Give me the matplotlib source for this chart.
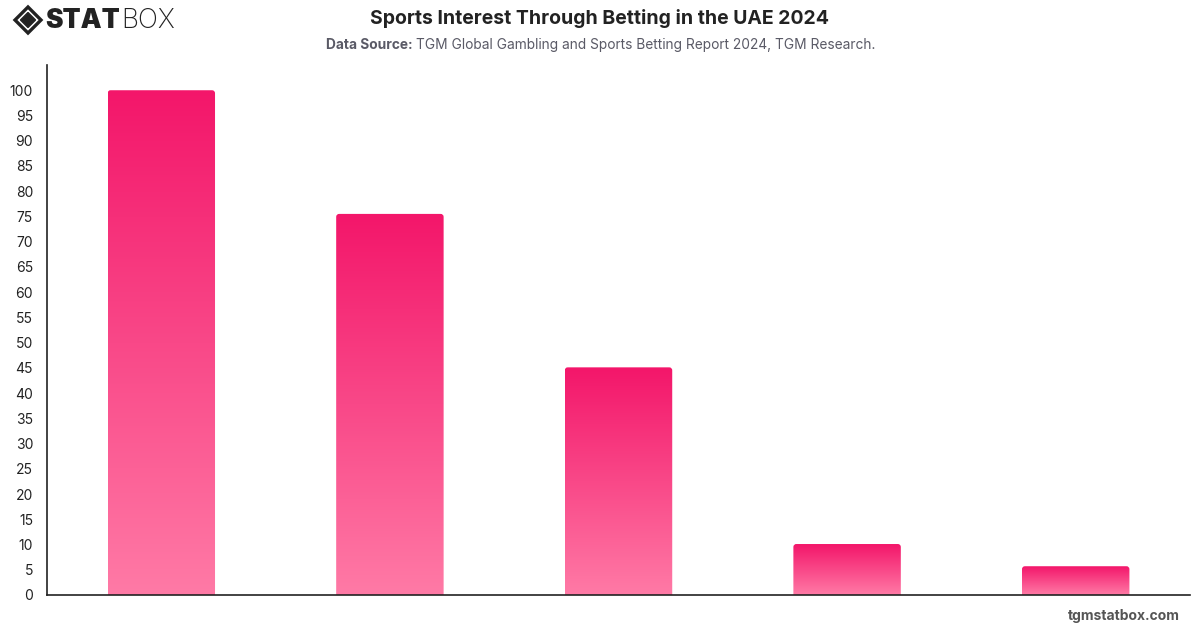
import matplotlib.pyplot as plt
import numpy as np
from matplotlib.patches import FancyBboxPatch, Polygon
from matplotlib.colors import LinearSegmentedColormap

plt.rcParams['font.family'] = ['Inter', 'DejaVu Sans']

categories = ["Sport A", "Sport B", "Sport C", "Sport D", "Sport E"]
values = [100, 75.5, 45.1, 10.1, 5.7]
yticks = list(range(0, 101, 5))

W, H = 1200, 628
fig = plt.figure(figsize=(W / 100, H / 100), dpi=100)
ax = fig.add_axes([47 / W, (H - 595) / H, (1190 - 47) / W, (595 - 65) / H])

cmap = LinearSegmentedColormap.from_list("pink", ["#ff7aa6", "#f3166a"])
grad = np.linspace(0, 1, 256).reshape(-1, 1)
width = 0.47
# data units per pixel ratio (y/x) so the corners come out round
aspect = (105 / 530) / (5 / 1143)

x = np.arange(len(categories))
for xi, v in zip(x, values):
    patch = FancyBboxPatch((xi - width / 2, -3), width, v + 3,
                           boxstyle="round,pad=0,rounding_size=0.013",
                           mutation_aspect=aspect,
                           linewidth=0, facecolor="none", transform=ax.transData)
    ax.add_patch(patch)
    im = ax.imshow(grad, cmap=cmap, origin="lower", aspect="auto",
                   extent=(xi - width / 2, xi + width / 2, 0, v), zorder=2)
    im.set_clip_path(patch)

ax.set_xlim(-0.5, len(categories) - 0.5)
ax.set_ylim(0, 105)
ax.set_yticks(yticks)
ax.set_xticks([])
ax.tick_params(axis="y", length=0, pad=10, labelsize=10, labelcolor="#222222")
for s in ["top", "right"]:
    ax.spines[s].set_visible(False)
for s in ["left", "bottom"]:
    ax.spines[s].set_color("#222222")
    ax.spines[s].set_linewidth(1.2)

fig.text(600 / W, 1 - 18 / H, "Sports Interest Through Betting in the UAE 2024",
         ha="center", va="center", fontsize=14, fontweight="bold", color="#222222")

renderer = fig.canvas.get_renderer()
t1 = fig.text(326 / W, 1 - 45 / H, "Data Source: ", ha="left", va="center",
              fontsize=9.9, fontweight="bold", color="#5a5a66")
bb = t1.get_window_extent(renderer)
fig.text(bb.x1 / W, 1 - 45 / H, "TGM Global Gambling and Sports Betting Report 2024, TGM Research.",
         ha="left", va="center", fontsize=9.9, color="#5a5a66")
fig.text(1180 / W, 1 - 616 / H, "tgmstatbox.com", ha="right", va="center",
         fontsize=10, fontweight="bold", color="#555555")

# logo
lax = fig.add_axes([0, 1 - 40 / H, 200 / W, 40 / H])
lax.set_xlim(0, 200)
lax.set_ylim(40, 0)
lax.axis("off")
cx, cy = 28, 20
lax.add_patch(Polygon([(cx - 13, cy), (cx, cy - 13), (cx + 13, cy), (cx, cy + 13)],
                      closed=True, fill=False, lw=2.4, edgecolor="#222222"))
lax.add_patch(Polygon([(cx - 7.5, cy), (cx, cy - 7.5), (cx + 7.5, cy), (cx, cy + 7.5)],
                      closed=True, color="#222222"))
ts = lax.text(45, 21, "STAT", fontsize=19, fontweight="black", color="#222222",
              va="baseline", ha="left", transform=lax.transData)
# move the baseline to sit the caps in the middle of the logo
ts.set_y(28)
sb = ts.get_window_extent(renderer)
box_x = lax.transData.inverted().transform((sb.x1, sb.y0))[0]
lax.text(box_x + 1, 28, "BOX", fontsize=19, fontweight="light", color="#222222",
         va="baseline", ha="left")

fig.savefig("out.png", dpi=100)
